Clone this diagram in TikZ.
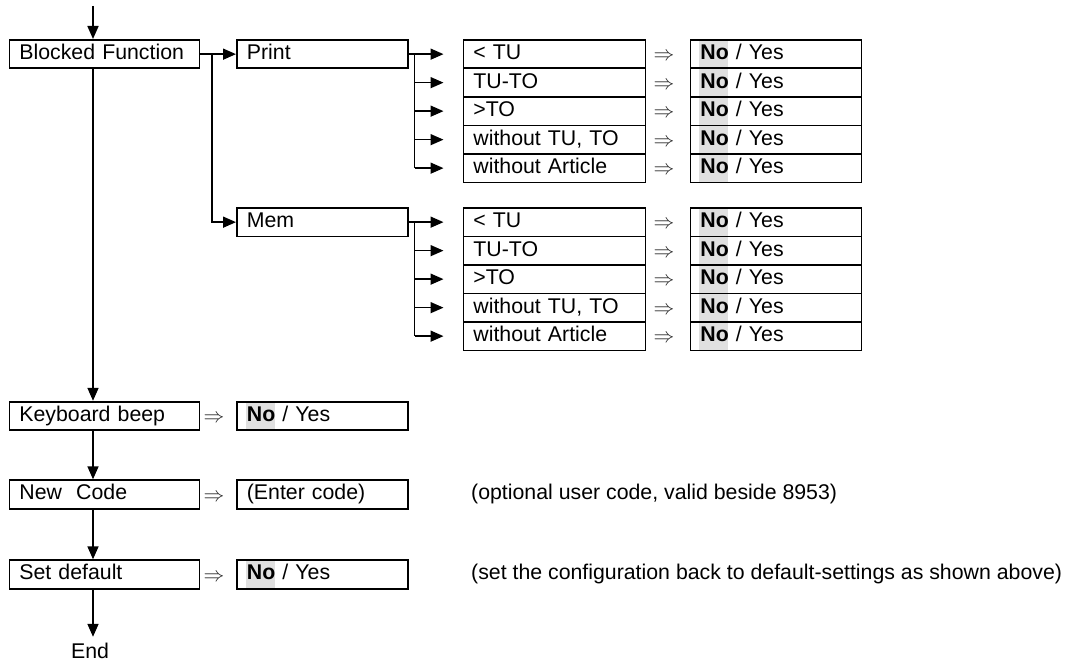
\documentclass[tikz,border=0pt]{standalone}
\usepackage{fontspec}
\setmainfont{Liberation Sans}
\usetikzlibrary{arrows.meta,backgrounds}
\begin{document}
\begin{tikzpicture}[x=1pt,y=-1pt,
  base/.style={font=\fontsize{21.3}{25}\selectfont},
  box/.style={base,draw,line width=1.8pt,rectangle,anchor=north west,inner xsep=10pt,inner ysep=0pt,minimum height=28.5pt,text height=15pt,text depth=4pt,align=left},
  wide/.style={box,text width=170pt},
  mid/.style={box,text width=151pt},
  lst/.style={box,text width=162pt},
  imp/.style={font=\fontsize{20}{22}\selectfont,anchor=base,inner sep=0pt,text=black!85},
  arr/.style={line width=1.6pt,-{Triangle[length=13pt,width=11pt]}},
  ln/.style={line width=1.6pt},
  hl/.style={fill=black!12},
  note/.style={base,anchor=west,inner sep=0pt,text height=15pt,text depth=4pt}
]
\useasboundingbox (0,0) rectangle (1068,661);
% top section
\coordinate (top) at (93,6);
\coordinate (b1) at (212,0);
\coordinate (b2) at (414.5,0);
\node[wide] (bf) at (8.5,39) {Blocked Function};
\node[mid] (pr) at (236,39) {Print};
\node[mid] (mem) at (236,207) {Mem};
\foreach \i/\lab in {1/{< TU},2/{TU-TO},3/{>TO},4/{without TU, TO},5/{without Article}} {
  \node[lst] (p\i) at (462.5,{39+(\i-1)*28.5}) {\lab};
  \node[mid] (pv\i) at (689.5,{39+(\i-1)*28.5}) {\textbf{No} / Yes};
  \node[imp] (pa\i) at (664,{39+(\i-1)*28.5+14.25+7.6}) {$\Rightarrow$};
  \coordinate (pt\i) at ([xshift=-19pt]p\i.west);
  \draw[arr] (b2 |- pt\i) -- (pt\i);
  \begin{scope}[on background layer]
    \fill[hl] ([xshift=9.5pt,yshift=-1.8pt]pv\i.north west) rectangle ([xshift=38.5pt,yshift=1.8pt]pv\i.south west);
  \end{scope}
  \node[lst] (m\i) at (462.5,{207+(\i-1)*28.5}) {\lab};
  \node[mid] (mv\i) at (689.5,{207+(\i-1)*28.5}) {\textbf{No} / Yes};
  \node[imp] (ma\i) at (664,{207+(\i-1)*28.5+14.25+7.6}) {$\Rightarrow$};
  \coordinate (mt\i) at ([xshift=-19pt]m\i.west);
  \draw[arr] (b2 |- mt\i) -- (mt\i);
  \begin{scope}[on background layer]
    \fill[hl] ([xshift=9.5pt,yshift=-1.8pt]mv\i.north west) rectangle ([xshift=38.5pt,yshift=1.8pt]mv\i.south west);
  \end{scope}
}
\draw[ln] (pr.east) -- (b2 |- pr.east) -- (b2 |- pt5);
\draw[ln] (mem.east) -- (b2 |- mem.east) -- (b2 |- mt5);
\draw[arr] (bf.east) -- (pr.west);
\draw[arr] (b1 |- bf.east) -- (b1 |- mem.west) -- (mem.west);
% bottom section
\node[wide] (kb) at (8.5,400.8) {Keyboard beep};
\node[imp] (ka) at (214,{400.8+14.25+7.6}) {$\Rightarrow$};
\node[mid] (kv) at (236,400.8) {\textbf{No} / Yes};
\node[wide] (nc) at (8.5,479.3) {New~~Code};
\node[imp] (na) at (214,{479.3+14.25+7.6}) {$\Rightarrow$};
\node[mid] (nv) at (236,479.3) {(Enter code)};
\node[wide] (sd) at (8.5,559.3) {Set default};
\node[imp] (sa) at (214,{559.3+14.25+7.6}) {$\Rightarrow$};
\node[mid] (sv) at (236,559.3) {\textbf{No} / Yes};
\begin{scope}[on background layer]
  \fill[hl] ([xshift=9.5pt,yshift=-1.8pt]kv.north west) rectangle ([xshift=38.5pt,yshift=1.8pt]kv.south west);
  \fill[hl] ([xshift=9.5pt,yshift=-1.8pt]sv.north west) rectangle ([xshift=38.5pt,yshift=1.8pt]sv.south west);
\end{scope}
\node[note] (n1) at (471,493.5) {(optional user code, valid beside 8953)};
\node[note] (n2) at (471,573.5) {(set the configuration back to default-settings as shown above)};
\node[base,inner sep=0pt,text height=21pt,text depth=0pt,anchor=base] (end) at (90,658) {End};
% main flow
\draw[arr] (top) -- (top |- bf.north);
\draw[arr] (top |- bf.south) -- (top |- kb.north);
\draw[arr] (top |- kb.south) -- (top |- nc.north);
\draw[arr] (top |- nc.south) -- (top |- sd.north);
\draw[arr] (top |- sd.south) -- (top |- end.north);
\end{tikzpicture}
\end{document}
